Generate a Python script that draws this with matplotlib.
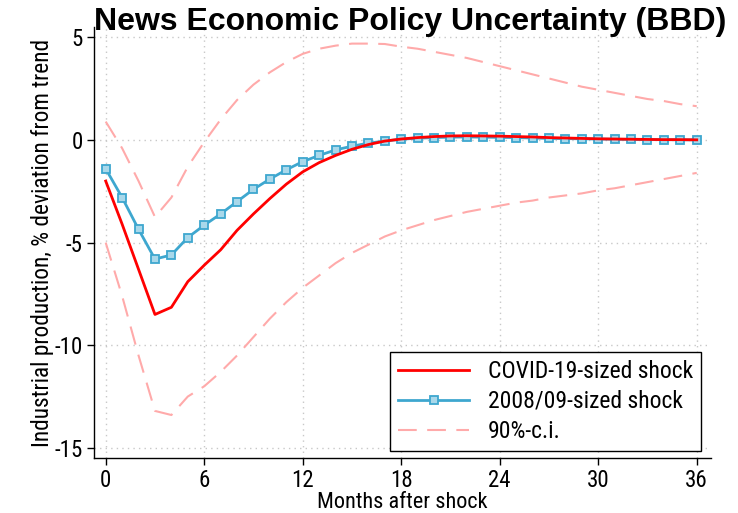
import matplotlib
matplotlib.use('Agg')
import numpy as np
from matplotlib import pyplot as plt

# months after shock
months = list(range(37))

# COVID-19-sized shock
covid = [-2.0, -4.1, -6.3, -8.5, -8.15, -6.9, -6.1, -5.35, -4.4, -3.6,
         -2.85, -2.15, -1.55, -1.1, -0.75, -0.45, -0.22, -0.05, 0.05, 0.12,
         0.17, 0.2, 0.21, 0.2, 0.19, 0.17, 0.15, 0.12, 0.1, 0.08,
         0.06, 0.05, 0.04, 0.03, 0.02, 0.02, 0.01]

# 2008/09-sized shock
gfc = [-1.4, -2.8, -4.35, -5.8, -5.6, -4.75, -4.15, -3.6, -3.0, -2.4,
       -1.9, -1.45, -1.05, -0.75, -0.48, -0.3, -0.15, -0.05, 0.04, 0.09,
       0.12, 0.14, 0.15, 0.14, 0.13, 0.12, 0.1, 0.08, 0.07, 0.06,
       0.05, 0.04, 0.03, 0.02, 0.02, 0.01, 0.01]

# 90% confidence band
ci_upper = [0.9, -0.4, -2.0, -3.75, -2.8, -1.3, -0.1, 1.0, 1.95, 2.7,
            3.3, 3.8, 4.2, 4.45, 4.6, 4.7, 4.7, 4.68, 4.55, 4.45,
            4.3, 4.15, 4.0, 3.8, 3.6, 3.4, 3.2, 3.0, 2.8, 2.6,
            2.45, 2.3, 2.15, 2.0, 1.9, 1.75, 1.65]
ci_lower = [-5.0, -7.6, -10.5, -13.2, -13.4, -12.5, -12.0, -11.3, -10.5, -9.6,
            -8.7, -7.9, -7.2, -6.6, -6.0, -5.5, -5.1, -4.7, -4.4, -4.15,
            -3.9, -3.7, -3.5, -3.35, -3.2, -3.05, -2.95, -2.8, -2.7, -2.6,
            -2.45, -2.35, -2.2, -2.05, -1.9, -1.75, -1.6]

xticks = [0, 6, 12, 18, 24, 30, 36]
yticks = [-15, -10, -5, 0, 5]

plt.rcParams['font.family'] = ['Roboto Condensed', 'Liberation Sans', 'DejaVu Sans']
plt.rcParams['axes.unicode_minus'] = False

fig = plt.figure(figsize=(7.38, 5.13), dpi=100)
ax = fig.add_axes([0.127, 0.107, 0.836, 0.840])

ci_col = '#ffaaaa'
ax.plot(months, ci_upper, color=ci_col, lw=1.5, dashes=(9, 5), zorder=2)
ax.plot(months, ci_lower, color=ci_col, lw=1.5, dashes=(9, 5), zorder=2, label='90%-c.i.')
ax.plot(months, gfc, color='#3ea7cf', lw=2, marker='s', ms=5.5, mfc='#a9d8ea',
        mec='#3ea7cf', mew=1.3, zorder=3, label='2008/09-sized shock')
ax.plot(months, covid, color='#ff0000', lw=2, zorder=4, label='COVID-19-sized shock')

ax.set_xlim(-0.73, 36.85)
ax.set_ylim(-15.5, 5.5)
ax.set_xticks(xticks)
ax.set_yticks(yticks)
ax.tick_params(labelsize=16.5, length=5, width=1, direction='out', pad=3)
ax.grid(True, color='#c8c8c8', ls=(0, (1, 3)), lw=1)
for s in ['top', 'right']:
    ax.spines[s].set_visible(False)
for s in ['left', 'bottom']:
    ax.spines[s].set_linewidth(1)

ax.set_xlabel('Months after shock', fontsize=16, labelpad=0)
ax.set_ylabel('Industrial production, % deviation from trend', fontsize=16.8, labelpad=0)

h, l = ax.get_legend_handles_labels()
order = [2, 1, 0]
leg = ax.legend([h[i] for i in order], [l[i] for i in order], loc='lower right',
                fontsize=17, frameon=True, fancybox=False, framealpha=1,
                edgecolor='black', handlelength=3.0, borderpad=0.35, labelspacing=0.3,
                borderaxespad=0, bbox_to_anchor=(0.985, 0.016))
leg.get_frame().set_linewidth(1)

fig.text(0.556, 0.957, 'News Economic Policy Uncertainty (BBD)', ha='center', va='center',
         fontsize=23, fontweight='bold', family=['Liberation Sans', 'DejaVu Sans'])

fig.savefig('out.png', dpi=100)
